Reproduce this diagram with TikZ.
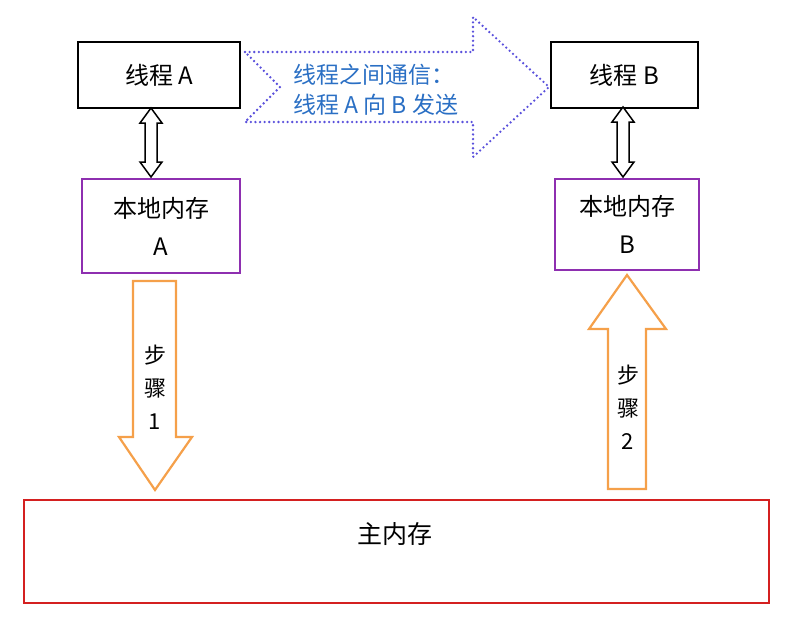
\documentclass[tikz,border=0pt]{standalone}
\usepackage{fontspec}
\newfontfamily\cjk{Noto Sans CJK SC}
\usetikzlibrary{calc}
\definecolor{pur}{HTML}{8E2FB0}
\definecolor{org}{HTML}{F5A04A}
\definecolor{redb}{HTML}{D42020}
\definecolor{dotb}{HTML}{5A50DC}
\definecolor{txtb}{HTML}{2A6FC4}
\tikzset{
  thread/.style={draw=black,line width=2pt,minimum width=162pt,minimum height=66pt,font=\cjk\fontsize{24}{28}\selectfont},
  local/.style={draw=pur,line width=2pt,align=center,font=\cjk\fontsize{24}{38}\selectfont},
  dbl/.style={draw=black,fill=white,line width=1.5pt},
  steparrow/.style={draw=org,fill=white,line width=2.2pt},
  lbl/.style={font=\cjk\fontsize{22}{33}\selectfont,align=center}
}
\begin{document}
\begin{tikzpicture}[x=1pt,y=-1pt]
\useasboundingbox (0,0) rectangle (800,627);
% threads
\node[thread,minimum width=162pt] (ta) at (159,75) {线程 A};
\node[thread,minimum width=147pt] (tb) at (624.5,75) {线程 B};
% local memories
\node[local,minimum width=158pt,minimum height=94pt] (la) at (161,226) {本地内存\\A};
\node[local,minimum width=144pt,minimum height=91pt] (lb) at (627,224) {本地内存\\B};
% main memory
\node[draw=redb,line width=2pt,minimum width=745pt,minimum height=103pt,anchor=north west] (mm) at (23,499) {};
\node[font=\cjk\fontsize{25}{30}\selectfont] (mmt) at (395,534) {主内存};
% double arrows
\foreach \cx/\top/\bot in {151/108/177, 623/107/177}{
  \draw[dbl] (\cx,\top) -- (\cx+11,\top+15) -- (\cx+6,\top+15) -- (\cx+6,\bot-15) -- (\cx+11,\bot-15) -- (\cx,\bot)
     -- (\cx-11,\bot-15) -- (\cx-6,\bot-15) -- (\cx-6,\top+15) -- (\cx-11,\top+15) -- cycle;
}
% step 1 (down)
\draw[steparrow] (133,281) -- (176,281) -- (176,437) -- (192,437) -- (155,490) -- (119,437) -- (133,437) -- cycle;
\node[lbl] (s1) at (155,387) {步\\骤\\1};
% step 2 (up)
\draw[steparrow] (608,489) -- (646,489) -- (646,329) -- (666,329) -- (627,275) -- (589,329) -- (608,329) -- cycle;
\node[lbl] (s2) at (628,407) {步\\骤\\2};
% big dotted arrow
\draw[dotb,line width=2.6pt,line cap=round,dash pattern=on 0pt off 4.6pt] (245,52) -- (473,52) -- (473,17) -- (549,87) -- (473,157) -- (473,122) -- (245,122) -- (280,87) -- cycle;
\node[font=\cjk\fontsize{23}{30}\selectfont,text=txtb,align=left,anchor=west] (msg) at (290,90) {线程之间通信：\\线程 A 向 B 发送};
\end{tikzpicture}
\end{document}
